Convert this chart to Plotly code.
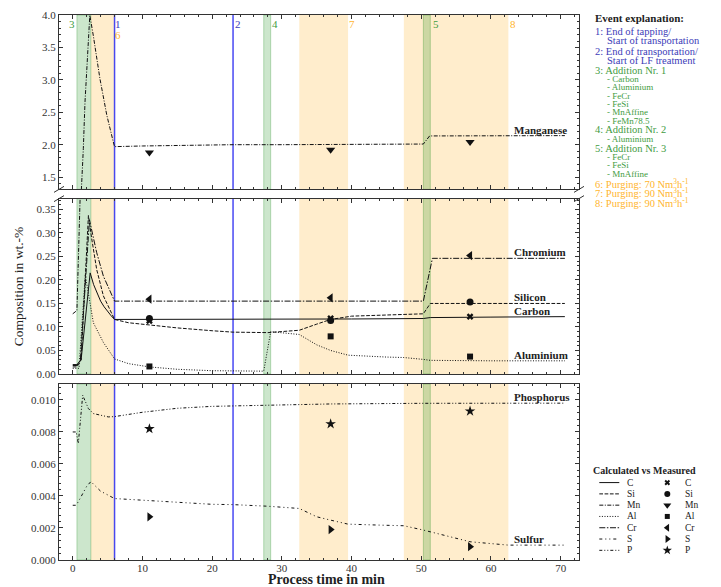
import plotly.graph_objects as go

# ---------------- data ----------------
t_C = [0, 0.6, 1.2, 2.5, 3.0, 3.5, 4.0, 4.5, 5.0, 5.5, 6.0, 10, 20, 30, 40, 50.3, 51.3, 60, 70.6]
C = [0.020, 0.020, 0.030, 0.215, 0.190, 0.172, 0.155, 0.143, 0.133, 0.124, 0.116, 0.116, 0.116, 0.117, 0.117, 0.118, 0.120, 0.121, 0.122]

t_Si = [0, 0.6, 1.2, 2.25, 2.7, 3.44, 4.4, 5.4, 6.0, 8, 11, 15, 20, 23, 28, 32.5, 35, 37, 40, 47.5, 50.3, 51.3, 60, 70.6]
Si = [0.015, 0.015, 0.030, 0.337, 0.290, 0.222, 0.166, 0.134, 0.116, 0.109, 0.104, 0.098, 0.092, 0.089, 0.088, 0.093, 0.106, 0.116, 0.123, 0.126, 0.128, 0.150, 0.150, 0.150]

t_Mn = [0, 0.6, 1.05, 1.25, 1.52, 1.76, 2.45, 2.96, 3.9, 4.88, 5.8, 6.0, 10, 15, 23, 30, 40, 50.3, 51.2, 60, 70.6]
Mn = [0.128, 0.135, 0.37, 1.33, 1.94, 2.66, 4.0, 3.68, 3.02, 2.46, 2.05, 1.97, 1.98, 1.99, 2.0, 2.0, 2.005, 2.01, 2.135, 2.14, 2.14]

t_Al = [0, 0.9, 1.8, 2.96, 4.4, 5.4, 6.0, 8, 11, 15, 20, 27.4, 28.4, 32.5, 35, 37, 39.5, 45, 47.5, 50.3, 51.3, 60, 70.6]
Al = [0.012, 0.012, 0.210, 0.109, 0.067, 0.046, 0.032, 0.022, 0.015, 0.010, 0.007, 0.006, 0.090, 0.084, 0.062, 0.050, 0.040, 0.036, 0.035, 0.031, 0.029, 0.028, 0.028]

t_Cr = [0, 0.6, 1.1, 2.4, 2.96, 3.44, 4.4, 5.4, 6.0, 20, 40, 50.3, 51.6, 60, 70.6]
Cr = [0.018, 0.018, 0.030, 0.328, 0.290, 0.258, 0.208, 0.173, 0.155, 0.155, 0.155, 0.155, 0.246, 0.246, 0.246]

t_S = [0, 0.5, 1.0, 1.5, 2.0, 2.6, 4.0, 6.0, 10, 20, 23, 28, 32.5, 35, 37, 39.5, 44, 47.5, 50.3, 53, 57, 62.5, 70.6]
S = [0.00342, 0.00342, 0.0038, 0.0042, 0.0046, 0.0049, 0.0043, 0.00384, 0.00373, 0.00348, 0.00346, 0.00336, 0.00322, 0.0027, 0.00249, 0.00224, 0.00218, 0.00214, 0.00187, 0.00156, 0.00114, 0.00093, 0.00093]

t_P = [0, 0.5, 0.8, 1.43, 2.25, 2.96, 5.1, 6.0, 10, 15, 20, 30, 37, 50, 70.6]
P = [0.0080, 0.0080, 0.00728, 0.01029, 0.00946, 0.00915, 0.00894, 0.00896, 0.00923, 0.00948, 0.0096, 0.00967, 0.00975, 0.00979, 0.0098]

t_meas = [11, 37, 57]
C_meas = [0.113, 0.118, 0.122]
Si_meas = [0.118, 0.114, 0.153]
Mn_meas = [1.88, 1.92, 2.04]
Al_meas = [0.016, 0.080, 0.037]
Cr_meas = [0.159, 0.162, 0.252]
S_meas = [0.0027, 0.0019, 0.00083]
P_meas = [0.0082, 0.0085, 0.0093]

short_names = ["C", "Si", "Mn", "Al", "Cr", "S", "P"]
long_names = ["Carbon", "Silicon", "Manganese", "Aluminium", "Chromium", "Sulfur", "Phosphorus"]

event_lines = [6.0, 23.0]                                   # events 1, 2
green_bands = [(0.6, 2.6), (27.4, 28.4), (50.3, 51.3)]      # events 3, 4, 5
orange_bands = [(2.6, 6.0), (32.5, 39.5), (47.5, 62.5)]     # events 6, 7, 8

event_numbers = ["1", "2", "3", "4", "5", "6", "7", "8"]

explanation_title = "Event explanation:"
explanation = [
    ("1: End of tapping/", "blue", 0),
    ("Start of transportation", "blue", 1),
    ("2: End of transportation/", "blue", 0),
    ("Start of LF treatment", "blue", 1),
    ("3: Addition Nr. 1", "green", 0),
    ("- Carbon", "green", 2),
    ("- Aluminium", "green", 2),
    ("- FeCr", "green", 2),
    ("- FeSi", "green", 2),
    ("- MnAffine", "green", 2),
    ("- FeMn78.5", "green", 2),
    ("4: Addition Nr. 2", "green", 0),
    ("- Aluminium", "green", 2),
    ("5: Addition Nr. 3", "green", 0),
    ("- FeCr", "green", 2),
    ("- FeSi", "green", 2),
    ("- MnAffine", "green", 2),
    ("6: Purging: 70 Nm<sup>3</sup>h<sup>-1</sup>", "orange", 0),
    ("7: Purging: 90 Nm<sup>3</sup>h<sup>-1</sup>", "orange", 0),
    ("8: Purging: 90 Nm<sup>3</sup>h<sup>-1</sup>", "orange", 0),
]
explanation_py = [29.3, 38.3, 49.3, 58.3, 68.3, 77.3, 85.7, 94.0, 102.3, 110.7, 119.0,
                  128.3, 137.3, 146.7, 155.7, 164.0, 172.7, 181.7, 191.0, 200.7]

# ---------------- styling ----------------
FONT = "Liberation Serif, DejaVu Serif, Times New Roman, serif"
TXT = {"blue": "#3c3cb8", "green": "#3f9c3f", "orange": "#ffb52e"}
LINE_BLUE = "rgba(40,40,240,0.85)"
GREEN_FILL = "rgba(0,128,0,0.2)"
GREEN_EDGE = "rgba(0,128,0,0.25)"
ORANGE_FILL = "rgba(255,165,0,0.2)"
AX = "#333333"

dashes = {
    "C": "solid",
    "Si": "3.7px,1.6px",
    "Mn": "4px,1.5px,1px,1.5px",
    "Al": "1px,1.6px",
    "Cr": "6px,1.6px,1.5px,1.6px",
    "S": "3px,3px,1px,3px,1px,3px",
    "P": "3px,2px,1px,2px,1px,2px",
}
symbols = {"C": "x", "Si": "circle", "Mn": "triangle-down", "Al": "square",
           "Cr": "triangle-left", "S": "triangle-right", "P": "star"}
msizes = {"C": 6, "Si": 7, "Mn": 8, "Al": 6, "Cr": 8, "S": 8, "P": 8}

# page body has an 8px margin; work in page pixels and convert
OFF = 8
W, H = 721 - OFF, 587 - OFF
ML, MR, MT, MB = 59 - OFF, 1, 13 - OFF, 27
PW = W - ML - MR
PH = H - MT - MB


def px_x(px):
    return (px - OFF - ML) / PW


def px_y(py):
    return (H - MB - (py - OFF)) / PH


main_right = 579
xdom = [0, px_x(main_right)]
top_dom = [px_y(188.0), 1.0]
mid_dom = [px_y(373.3), px_y(197.3)]
bot_dom = [0, px_y(383.3)]

fig = go.Figure()

series = {
    "C": (t_C, C, C_meas), "Si": (t_Si, Si, Si_meas), "Mn": (t_Mn, Mn, Mn_meas),
    "Al": (t_Al, Al, Al_meas), "Cr": (t_Cr, Cr, Cr_meas), "S": (t_S, S, S_meas),
    "P": (t_P, P, P_meas),
}
panels_of = {"C": ["mid"], "Si": ["mid"], "Mn": ["top", "mid"], "Al": ["mid"],
             "Cr": ["mid"], "S": ["bot"], "P": ["bot"]}
axes_of = {"bot": ("x", "y"), "mid": ("x2", "y2"), "top": ("x3", "y3")}

for key in short_names:
    t, v, m = series[key]
    for pan in panels_of[key]:
        xa, ya = axes_of[pan]
        fig.add_trace(go.Scatter(x=t, y=v, mode="lines", xaxis=xa, yaxis=ya,
                                 line=dict(color="#111", width=1, dash=dashes[key]),
                                 showlegend=False, hoverinfo="skip"))
    pan = panels_of[key][0]
    xa, ya = axes_of[pan]
    fig.add_trace(go.Scatter(x=t_meas, y=m, mode="markers", xaxis=xa, yaxis=ya,
                             marker=dict(symbol=symbols[key], size=msizes[key], color="#111",
                                         line=dict(width=0)),
                             showlegend=False))

# series labels at the right end
label_val = {"Manganese": ("top", Mn[-1]), "Chromium": ("mid", Cr[-1]), "Silicon": ("mid", Si[-1]),
             "Carbon": ("mid", C[-1]), "Aluminium": ("mid", Al[-1]),
             "Phosphorus": ("bot", P[-1]), "Sulfur": ("bot", S[-1])}
annotations = []
for name in long_names:
    pan, val = label_val[name]
    xa, ya = axes_of[pan]
    annotations.append(dict(x=63.0, y=val, xref=xa, yref=ya, text="<b>%s</b>" % name,
                            showarrow=False, xanchor="left", yanchor="bottom", yshift=-2,
                            font=dict(size=11, color="#222")))

# shapes: bands and event lines in each panel
shapes = []
for pan in ["bot", "mid", "top"]:
    xa, ya = axes_of[pan]
    for a, b in orange_bands:
        shapes.append(dict(type="rect", xref=xa, yref=ya + " domain", x0=a, x1=b, y0=0, y1=1,
                           fillcolor=ORANGE_FILL, line=dict(width=0), layer="below"))
    for a, b in green_bands:
        shapes.append(dict(type="rect", xref=xa, yref=ya + " domain", x0=a, x1=b, y0=0, y1=1,
                           fillcolor=GREEN_FILL, line=dict(width=1, color=GREEN_EDGE), layer="below"))
    for e in event_lines:
        shapes.append(dict(type="line", xref=xa, yref=ya + " domain", x0=e, x1=e, y0=0, y1=1,
                           line=dict(color=LINE_BLUE, width=1.5), layer="below"))

# broken-axis marks
for cx in (59, main_right):
    for cy in (188.0, 197.3):
        shapes.append(dict(type="line", xref="paper", yref="paper",
                           x0=px_x(cx - 5), y0=px_y(cy + 3), x1=px_x(cx + 5), y1=px_y(cy - 3),
                           line=dict(color=AX, width=1)))

# event numbers in the top panel
num_pos = {"1": (event_lines[0] + 0.55, 0.949, "blue"),
           "2": (event_lines[1] + 0.75, 0.949, "blue"),
           "3": (green_bands[0][0] - 0.75, 0.949, "green"),
           "4": (green_bands[1][1] + 0.55, 0.949, "green"),
           "5": (green_bands[2][1] + 0.8, 0.949, "green"),
           "6": (orange_bands[0][1] + 0.55, 0.888, "orange"),
           "7": (orange_bands[1][1] + 0.6, 0.949, "orange"),
           "8": (orange_bands[2][1] + 0.6, 0.949, "orange")}
for n in event_numbers:
    x, yd, col = num_pos[n]
    annotations.append(dict(x=x, y=yd, xref="x3", yref="y3 domain", text=n, showarrow=False,
                            xanchor="center", yanchor="middle", font=dict(size=11, color=TXT[col])))

# event explanation block
annotations.append(dict(x=px_x(593), y=px_y(15.7), xref="paper", yref="paper",
                        text="<b>%s</b>" % explanation_title, showarrow=False,
                        xanchor="left", yanchor="middle", font=dict(size=11, color="#222")))
for (txt, col, lvl), py in zip(explanation, explanation_py):
    xpx = 593 if lvl == 0 else 604.7
    size = 10.5 if lvl < 2 else 9
    annotations.append(dict(x=px_x(xpx), y=px_y(py), xref="paper", yref="paper", text=txt,
                            showarrow=False, xanchor="left", yanchor="middle",
                            font=dict(size=size, color=TXT[col])))

# calculated vs measured legend (drawn in its own hidden axes)
for i, key in enumerate(short_names):
    fig.add_trace(go.Scatter(x=[9.3, 29.3], y=[i, i], mode="lines", xaxis="x4", yaxis="y4",
                             line=dict(color="#111", width=1, dash=dashes[key]),
                             showlegend=False, hoverinfo="skip"))
    fig.add_trace(go.Scatter(x=[77.3], y=[i], mode="markers", xaxis="x4", yaxis="y4",
                             marker=dict(symbol=symbols[key], size=msizes[key] - 1, color="#111",
                                         line=dict(width=0)),
                             showlegend=False, hoverinfo="skip"))
    annotations.append(dict(x=34.5, y=i, xref="x4", yref="y4", text=key, showarrow=False,
                            xanchor="left", yanchor="middle", font=dict(size=9.5, color="#222")))
    annotations.append(dict(x=93.0, y=i, xref="x4", yref="y4", text=key, showarrow=False,
                            xanchor="left", yanchor="middle", font=dict(size=9.5, color="#222")))
annotations.append(dict(x=1.0, y=-1.05, xref="x4", yref="y4", text="<b>Calculated vs Measured</b>",
                        showarrow=False, xanchor="left", yanchor="middle",
                        font=dict(size=10, color="#222")))

# axis titles
annotations.append(dict(x=px_x(18), y=(mid_dom[0] + mid_dom[1]) / 2, xref="paper", yref="paper",
                        text="Composition in wt.-%", textangle=-90, showarrow=False,
                        xanchor="center", yanchor="middle", font=dict(size=13.5, color="#222")))
annotations.append(dict(x=px_x(326), y=px_y(580), xref="paper", yref="paper",
                        text="<b>Process time in min</b>", showarrow=False,
                        xanchor="center", yanchor="middle", font=dict(size=14, color="#222")))

base = dict(showline=True, linecolor=AX, linewidth=1, mirror="ticks", ticks="inside",
            ticklen=4, tickwidth=1, tickcolor=AX, showgrid=False, zeroline=False,
            tickfont=dict(size=11, color="#333"), ticklabeloverflow="allow")
xr = [-1.97, 72.63]
xminor = dict(ticks="inside", ticklen=2, tickcolor=AX, dtick=2, showgrid=False)

fig.update_layout(
    width=W, height=H, margin=dict(l=ML, r=MR, t=MT, b=MB),
    paper_bgcolor="white", plot_bgcolor="white",
    font=dict(family=FONT, color="#222"),
    showlegend=False,
    xaxis=dict(base, domain=xdom, anchor="y", range=xr, dtick=10, tick0=0, minor=xminor,
               ticklabelstandoff=-2),
    xaxis2=dict(base, domain=xdom, anchor="y2", range=xr, dtick=10, tick0=0, minor=xminor,
                showticklabels=False, matches="x"),
    xaxis3=dict(base, domain=xdom, anchor="y3", range=xr, dtick=10, tick0=0, minor=xminor,
                showticklabels=False, matches="x"),
    yaxis=dict(base, domain=bot_dom, anchor="x", range=[0, 0.011], dtick=0.002, tick0=0,
               tickformat=".3f", minor=dict(ticks="inside", ticklen=2, tickcolor=AX, dtick=0.0004)),
    yaxis2=dict(base, domain=mid_dom, anchor="x2", range=[0, 0.373], dtick=0.05, tick0=0,
                tickformat=".2f", minor=dict(ticks="inside", ticklen=2, tickcolor=AX, dtick=0.01)),
    yaxis3=dict(base, domain=top_dom, anchor="x3", range=[1.31, 4.003], dtick=0.5, tick0=0,
                tickformat=".1f", minor=dict(ticks="inside", ticklen=2, tickcolor=AX, dtick=0.1)),
    xaxis4=dict(domain=[px_x(590), 1.0], anchor="y4", range=[0, 130], visible=False),
    yaxis4=dict(domain=[0, px_y(465)], anchor="x4", range=[6.858, -1.527], visible=False),
    shapes=shapes,
    annotations=annotations,
)

fig.write_html("out.html")
